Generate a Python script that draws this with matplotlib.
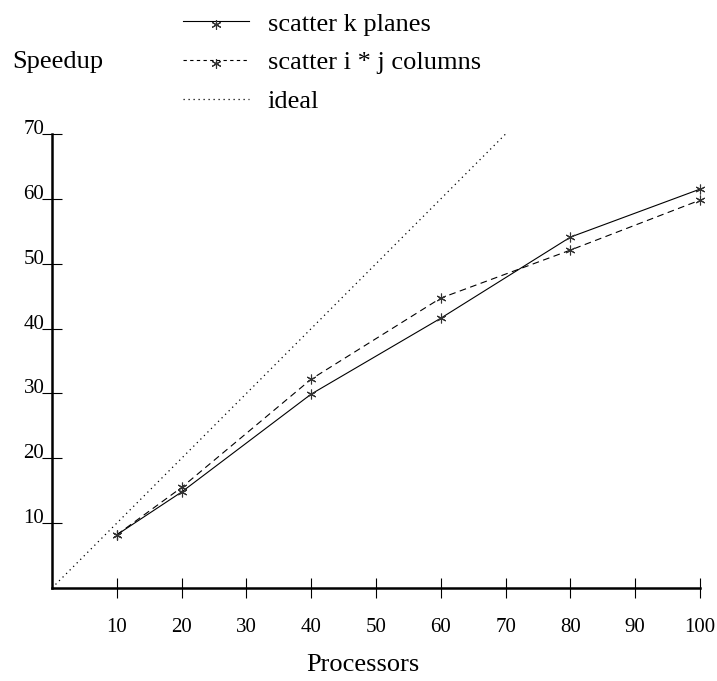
import matplotlib
matplotlib.use("Agg")
import matplotlib.pyplot as plt
from matplotlib.legend_handler import HandlerLine2D
from matplotlib.lines import Line2D
from matplotlib.markers import MarkerStyle
from matplotlib.transforms import Affine2D

plt.rcParams["font.family"] = ["Liberation Serif", "DejaVu Serif"]
plt.rcParams["font.size"] = 15

procs = [10, 20, 40, 60, 80, 100]
speedup_k_planes = [8.2, 14.8, 29.9, 41.6, 54.1, 61.5]
speedup_ij_columns = [8.2, 15.5, 32.2, 44.7, 52.1, 59.8]
ideal_x = [0, 70]
ideal_y = [0, 70]
xticks = [10, 20, 30, 40, 50, 60, 70, 80, 90, 100]
yticks = [10, 20, 30, 40, 50, 60, 70]

fig = plt.figure(figsize=(7.17, 6.81), dpi=100)
ax = fig.add_axes([52 / 717, 1 - 588 / 681, 648 / 717, 454 / 681])

star = (6, 2, 0)
mk = dict(marker=star, ms=7, mew=0.8, mec="#333333", clip_on=False)
ax.plot(procs, speedup_k_planes, "k-", lw=0.8, label="scatter k planes", **mk)
ax.plot(procs, speedup_ij_columns, "k--", lw=0.8, dashes=(6, 4),
        label="scatter i * j columns", **mk)
ax.plot(ideal_x, ideal_y, "k:", lw=0.9, dashes=(1, 3), label="ideal")

ax.set_xlim(0, 100)
ax.set_ylim(0, 70)
ax.set_xticks(xticks)
ax.set_yticks(yticks)
for s in ["top", "right"]:
    ax.spines[s].set_visible(False)
for s in ["left", "bottom"]:
    ax.spines[s].set_linewidth(1.8)
ax.tick_params(axis="both", direction="inout", length=15, width=0.8)
ax.tick_params(axis="x", pad=14)
ax.tick_params(axis="y", pad=-2)
for lab in ax.get_yticklabels():
    lab.set_verticalalignment("baseline")

fig.text(363 / 717, 1 - 665 / 681, "Processors", ha="center", va="center",
         fontsize=19)
fig.text(12 / 717, 1 - 62 / 681, "Speedup", ha="left", va="center",
         fontsize=19)


def low_star(legline, orig):
    # legend sample: the star sits a little under the line, like a text "*"
    legline.update_from(orig)
    lab = orig.get_label()
    if lab.startswith("scatter"):
        legline.set_marker(MarkerStyle(star, transform=Affine2D().translate(0, -0.35)))
    if lab == "scatter i * j columns":
        legline.set_dashes((3, 3))


ax.legend(loc="upper left", bbox_to_anchor=(170 / 717, 1 + 1 / 681),
          bbox_transform=fig.transFigure, frameon=False, fontsize=19,
          handlelength=2.5, handletextpad=0.71, labelspacing=0.58,
          borderpad=0, numpoints=1,
          handler_map={Line2D: HandlerLine2D(update_func=low_star)})

fig.savefig("out.png", dpi=100)
